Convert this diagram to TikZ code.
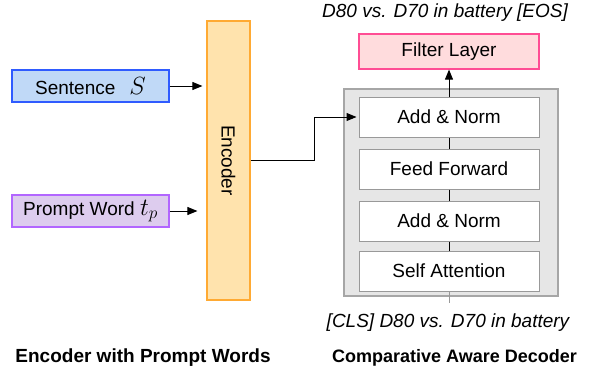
\documentclass[tikz,border=0pt]{standalone}
\usepackage{fontspec}
\setmainfont{Liberation Sans}
\usetikzlibrary{arrows.meta}
\definecolor{sentfill}{HTML}{C0D9F7}
\definecolor{sentdraw}{HTML}{2F5BFF}
\definecolor{promptfill}{HTML}{DDCCEE}
\definecolor{promptdraw}{HTML}{B266FF}
\definecolor{encfill}{HTML}{FFE3AD}
\definecolor{encdraw}{HTML}{FFAA33}
\definecolor{filtfill}{HTML}{FFDCDD}
\definecolor{filtdraw}{HTML}{FF4D94}
\definecolor{decfill}{HTML}{E6E6E6}
\definecolor{decdraw}{HTML}{A6A6A6}
\definecolor{innerdraw}{HTML}{999999}
\newcommand{\bigmath}[1]{{\fontsize{24}{24}\selectfont$#1$}}
\tikzset{
  x=1pt, y=-1pt,
  every node/.style={font=\fontsize{19}{23}\selectfont, inner sep=0pt},
  inputbox/.style={draw, line width=1.2pt, minimum width=157pt, minimum height=32pt},
  layerbox/.style={draw=innerdraw, fill=white, line width=1pt, minimum width=180pt, minimum height=40pt},
  arr/.style={-{Triangle[length=10pt,width=8pt]}, line width=1pt},
  link/.style={line width=1pt},
  caption/.style={font=\fontsize{19}{23}\selectfont\bfseries},
  seqtext/.style={font=\fontsize{19}{23}\selectfont\itshape}
}
\begin{document}
\begin{tikzpicture}
\useasboundingbox (0,0) rectangle (592,372);
% inputs
\node[inputbox, draw=sentdraw, fill=sentfill] (sent) at (90.5,86) {Sentence\hspace{14pt}\bigmath{S}};
\node[inputbox, draw=promptdraw, fill=promptfill] (prompt) at (90.5,211) {Prompt Word \bigmath{t_p}};
% encoder
\node[draw=encdraw, fill=encfill, line width=1.2pt, minimum width=43pt, minimum height=279pt] (enc) at (228.5,160.5) {};
\node[rotate=-90] (enclabel) at (enc.center) {Encoder};
% decoder
\node[draw=decdraw, fill=decfill, line width=1.2pt, minimum width=214pt, minimum height=207pt] (dec) at (451,192.5) {};
\node[layerbox] (an1) at (449,117) {Add \& Norm};
\node[layerbox] (ff) at (449,169) {Feed Forward};
\node[layerbox] (an2) at (449,221) {Add \& Norm};
\node[layerbox] (sa) at (449,271) {Self Attention};
\node[draw=filtdraw, fill=filtfill, line width=1.2pt, minimum width=180pt, minimum height=35pt] (filt) at (449,51.5) {Filter Layer};
% texts
\node[seqtext] (outtext) at (445,13) {D80 vs. D70 in battery [EOS]};
\node[seqtext] (intext) at (448,323) {[CLS] D80 vs. D70 in battery};
\node[caption] (cap1) at (143,357.5) {Encoder with Prompt Words};
\node[caption, font=\fontsize{18}{22}\selectfont\bfseries] (cap2) at (454.5,357.5) {Comparative Aware Decoder};
\coordinate (inend) at (449,303);
% connectors
\draw[arr, shorten >=4pt] (sent.east) -- (sent.east -| enc.west);
\draw[arr, shorten >=9pt] (prompt.east) -- (prompt.east -| enc.west);
\draw[arr, shorten >=2pt] (enc.east |- 0,160.5) -- (314,160.5) |- (an1.west);
\draw[link] (an1.south) -- (ff.north);
\draw[link] (ff.south) -- (an2.north);
\draw[link] (an2.south) -- (sa.north);
\draw[link, draw=innerdraw] (sa.south) -- (inend);
\draw[arr] (an1.north) -- (filt.south);
\end{tikzpicture}
\end{document}
